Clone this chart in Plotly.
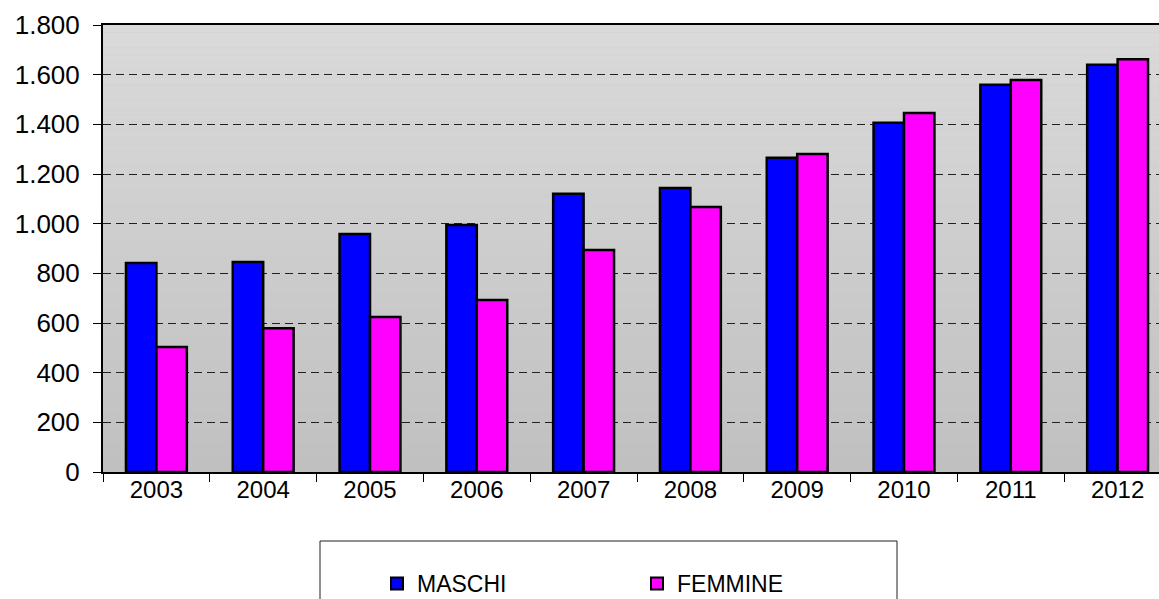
import plotly.graph_objects as go

years = ['2003', '2004', '2005', '2006', '2007', '2008', '2009', '2010', '2011', '2012']
maschi = [842, 846, 958, 995, 1120, 1144, 1265, 1406, 1559, 1640]
femmine = [503, 579, 624, 693, 894, 1067, 1281, 1446, 1579, 1662]
y_ticks = [0, 200, 400, 600, 800, 1000, 1200, 1400, 1600, 1800]

FONT = "Liberation Sans, Arial, sans-serif"
W, H = 1159, 599
L, T, B = 103, 25, 127
PW = W - L
PH = H - T - B

fig = go.Figure()
fig.add_trace(go.Bar(x=years, y=maschi, name='MASCHI',
                     marker=dict(color='#0000FF', line=dict(color='black', width=2.5))))
fig.add_trace(go.Bar(x=years, y=femmine, name='FEMMINE',
                     marker=dict(color='#FF00FF', line=dict(color='black', width=2.5))))

# gradient background (strips)
n = 60
top_c = (218, 218, 218)
bot_c = (192, 192, 192)
for i in range(n):
    f = i / (n - 1)
    c = tuple(round(bot_c[k] + (top_c[k] - bot_c[k]) * f) for k in range(3))
    fig.add_shape(type='rect', xref='x domain', yref='y domain',
                  x0=0, x1=1, y0=i / n, y1=(i + 1) / n,
                  fillcolor='rgb(%d,%d,%d)' % c, line=dict(width=0), layer='below')


def px_x(p):
    return (p - L) / PW


def px_y(p):
    return (H - B - p) / PH


# legend box
fig.add_shape(type='rect', xref='paper', yref='paper',
              x0=px_x(320), x1=px_x(897), y0=px_y(541), y1=px_y(640),
              line=dict(color='#202020', width=1), fillcolor='rgba(0,0,0,0)')

cat_w = 106.8
fig.update_layout(
    width=W, height=H,
    margin=dict(l=L, r=0, t=T, b=B, autoexpand=False),
    paper_bgcolor='white',
    plot_bgcolor='#C8C8C8',
    barmode='group', bargap=0.43, bargroupgap=0,
    separators=',.',
    font=dict(family=FONT, size=24, color='black'),
    showlegend=True,
    legend=dict(orientation='h', x=px_x(377), xanchor='left',
                y=px_y(562), yanchor='top', font=dict(size=23, color='black'),
                bgcolor='rgba(0,0,0,0)', borderwidth=0,
                entrywidth=215, itemsizing='constant', traceorder='normal'),
    xaxis=dict(type='category', range=[-0.5, -0.5 + PW / cat_w],
               showline=True, linecolor='black', linewidth=2, mirror=True,
               ticks='outside', tickson='boundaries', ticklen=8, tickcolor='black', tickwidth=1,
               showgrid=False, tickfont=dict(size=24), ticklabelstandoff=-5),
    yaxis=dict(range=[0, 1800], tickvals=y_ticks, tickformat=',d',
               showline=True, linecolor='black', linewidth=2,
               ticks='outside', ticklen=8, tickcolor='black', tickwidth=1,
               showgrid=True, gridcolor='#202020', gridwidth=1, griddash='8px,5px',
               zeroline=False, tickfont=dict(size=26), ticklabelstandoff=8),
)

fig.write_html("out.html", config={'displayModeBar': False},
               post_script="document.body.style.margin='0';document.body.style.overflow='hidden';")
